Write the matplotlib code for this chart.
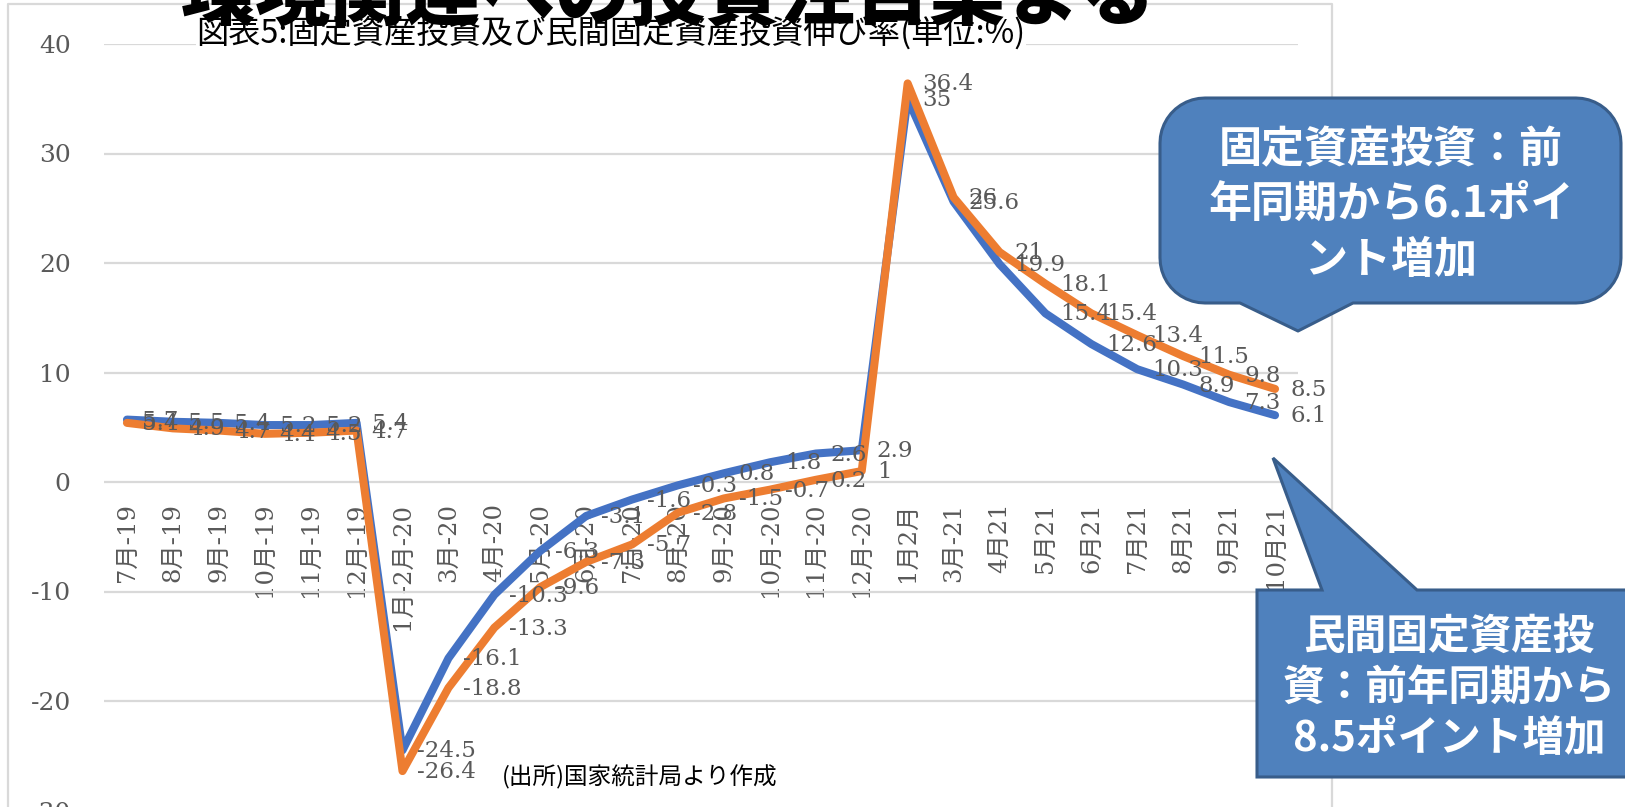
import numpy as np
import matplotlib
matplotlib.use("Agg")
import matplotlib.pyplot as plt
from matplotlib.patches import Polygon

plt.rcParams['font.family'] = ['DejaVu Serif', 'Noto Sans CJK JP']
plt.rcParams['axes.unicode_minus'] = False

# ---- data -------------------------------------------------------------
categories = ['7月-19', '8月-19', '9月-19', '10月-19', '11月-19', '12月-19',
              '1月-2月-20', '3月-20', '4月-20', '5月-20', '6月-20', '7月-20',
              '8月-20', '9月-20', '10月-20', '11月-20', '12月-20', '1月2月',
              '3月-21', '4月21', '5月21', '6月21', '7月21', '8月21', '9月21',
              '10月21']
fixed_asset = [5.7, 5.5, 5.4, 5.2, 5.2, 5.4, -24.5, -16.1, -10.3, -6.3, -3.1,
               -1.6, -0.3, 0.8, 1.8, 2.6, 2.9, 35, 25.6, 19.9, 15.4, 12.6,
               10.3, 8.9, 7.3, 6.1]
private_fixed_asset = [5.4, 4.9, 4.7, 4.4, 4.5, 4.7, -26.4, -18.8, -13.3,
                       -9.6, -7.3, -5.7, -2.8, -1.5, -0.7, 0.2, 1, 36.4, 26,
                       21, 18.1, 15.4, 13.4, 11.5, 9.8, 8.5]
y_ticks = [-30, -20, -10, 0, 10, 20, 30, 40]

headline = '環境関連への投資注目集まる'
chart_title = '図表5:固定資産投資及び民間固定資産投資伸び率(単位:%)'
source_note = '(出所)国家統計局より作成'
callout_fixed = ['固定資産投資：前', '年同期から6.1ポイ', 'ント増加']
callout_private = ['民間固定資産投', '資：前年同期から', '8.5ポイント増加']

BLUE = '#4472C4'
ORANGE = '#ED7D31'
GRID = '#D9D9D9'
LABEL = '#595959'
BOX_FILL = '#4F81BD'
BOX_EDGE = '#385D8A'

W, H = 1625, 807
fig = plt.figure(figsize=(W / 100, H / 100), dpi=100)
fig.patch.set_facecolor('white')

# ---- main line chart ----------------------------------------------------
left, right = 104, 1298
top_px, bottom_px = 44, 810.5
ax = fig.add_axes([left / W, 1 - bottom_px / H, (right - left) / W,
                   (bottom_px - top_px) / H])
ax.set_facecolor('none')
x = np.arange(len(categories))

ax.plot(x, fixed_asset, color=BLUE, lw=5.8, solid_joinstyle='round',
        solid_capstyle='round', zorder=3)
ax.plot(x, private_fixed_asset, color=ORANGE, lw=5.8, solid_joinstyle='round',
        solid_capstyle='round', zorder=4)

for series in (fixed_asset, private_fixed_asset):
    for xi, v in zip(x, series):
        ax.annotate(f'{v:g}', (xi, v), xytext=(15, -1),
                    textcoords='offset pixels', ha='left', va='center',
                    fontsize=16.5, color=LABEL, family='DejaVu Serif',
                    zorder=6)

ax.set_xlim(-0.5, len(categories) - 0.5)
ax.set_ylim(-30, 40)
ax.set_yticks(y_ticks)
ax.yaxis.grid(True, color=GRID, lw=1.6)
ax.set_axisbelow(True)
for side in ('top', 'right', 'left'):
    ax.spines[side].set_visible(False)
ax.spines['bottom'].set_position(('data', 0))
ax.spines['bottom'].set_visible(False)
ax.set_xticks(x)
ax.set_xticklabels(categories, rotation=90, ha='center', va='top')
ax.tick_params(axis='x', length=0, pad=15, labelsize=17.5, labelcolor=LABEL)
ax.tick_params(axis='y', length=0, pad=24, labelsize=18, labelcolor=LABEL)
for t in ax.get_xticklabels():
    t.set_family(['DejaVu Serif', 'Noto Sans CJK JP'])

# ---- overlay in pixel coordinates --------------------------------------
ov = fig.add_axes([0, 0, 1, 1], zorder=10)
ov.set_xlim(0, W)
ov.set_ylim(H, 0)
ov.axis('off')

# chart border
ov.plot([8, 8, 1332, 1332], [H + 5, 4, 4, H + 5], color=GRID, lw=1.6,
        zorder=1)

ov.text(611, 33, chart_title, ha='center', va='center', fontsize=23.2,
        family='Noto Sans CJK JP', color='black', zorder=2,
        bbox=dict(facecolor='white', edgecolor='none', pad=0))
ov.text(640, 777, source_note, ha='center', va='center', fontsize=17,
        family='Noto Sans CJK JP', color='black', zorder=2)
ov.text(668, 19, headline, ha='center', va='baseline', fontsize=54,
        family='Noto Sans CJK JP', weight='heavy', color='black', zorder=5)


def arc(cx, cy, r, a0, a1, n=12):
    a = np.radians(np.linspace(a0, a1, n))
    return list(zip(cx + r * np.cos(a), cy + r * np.sin(a)))


# rounded callout with tail on the bottom edge (y grows downward)
x0, x1, y0, y1, r = 1160, 1621, 98, 303, 45
ta, tb, tip = 1240, 1353, (1298, 331)
pts = [(x0 + r, y0), (x1 - r, y0)]
pts += arc(x1 - r, y0 + r, r, -90, 0)
pts += arc(x1 - r, y1 - r, r, 0, 90)
pts += [(tb, y1), tip, (ta, y1)]
pts += arc(x0 + r, y1 - r, r, 90, 180)
pts += arc(x0 + r, y0 + r, r, 180, 270)
ov.add_patch(Polygon(pts, closed=True, facecolor=BOX_FILL, edgecolor=BOX_EDGE,
                     lw=2.2, joinstyle='round', zorder=6))
for line, yy in zip(callout_fixed, [149, 204, 260]):
    ov.text(1391, yy, line, ha='center', va='center', fontsize=31,
            family='Noto Sans CJK JP', weight='bold', color='white', zorder=7)

# rectangular callout with tail on the top edge
bx0, bx1, by0, by1 = 1257, 1645, 590, 777
pts2 = [(bx0, by0), (1322, by0), (1273, 458), (1417, by0), (bx1, by0),
        (bx1, by1), (bx0, by1)]
ov.add_patch(Polygon(pts2, closed=True, facecolor=BOX_FILL, edgecolor=BOX_EDGE,
                     lw=2.2, joinstyle='miter', zorder=6))
for line, yy in zip(callout_private, [637, 688, 739]):
    ov.text(1449, yy, line, ha='center', va='center', fontsize=30,
            family='Noto Sans CJK JP', weight='bold', color='white', zorder=7)

fig.savefig('out.png', dpi=100)
